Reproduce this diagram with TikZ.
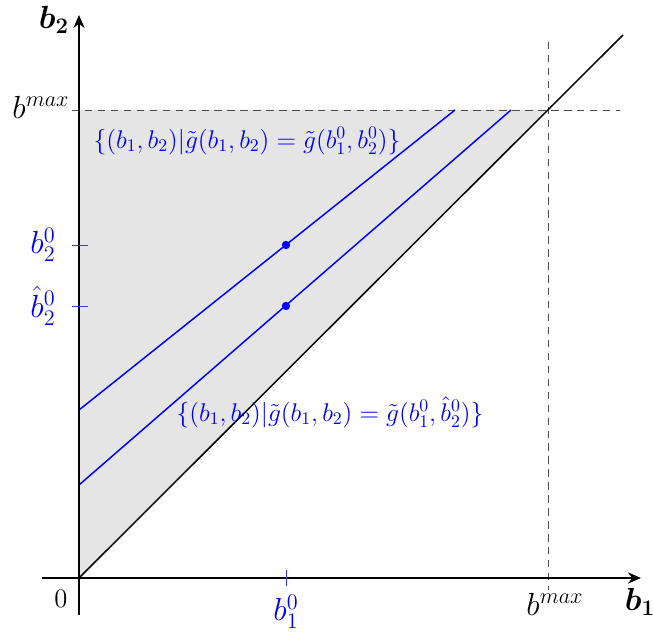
\documentclass[tikz,border=0pt]{standalone}
\usepackage{amsmath,bm}
\usetikzlibrary{arrows.meta}
\begin{document}
\begin{tikzpicture}[x=0.019cm,y=-0.019cm,
  axis/.style={line width=1.4pt,-{Stealth[length=7pt,width=6pt]}},
  guide/.style={dash pattern=on 4pt off 3pt,black!70,line width=0.5pt},
  level/.style={blue,line width=0.8pt},
  tickb/.style={blue!80,line width=0.45pt},
  lbl/.style={inner sep=1pt},
  setlbl/.style={inner sep=1pt,blue,font=\Large},
  dot/.style={circle,fill=blue,inner sep=0pt,minimum size=4.5pt}]
\useasboundingbox (0,0) rectangle (653,635);
% coordinates
\coordinate (O) at (79,578);
\coordinate (TL) at (79,110);
\coordinate (TD) at (547,110);
\coordinate (DE) at (623,35);
\fill[gray!20] (O) -- (TD) -- (TL) -- cycle;
\coordinate (HL) at (72,110);
\coordinate (HR) at (620,110);
\coordinate (VT) at (548,42);
\coordinate (VB) at (548,590);
\draw[guide] (HL) -- (HR);
\draw[guide] (VT) -- (VB);
\draw[line width=0.8pt] (O) -- (DE);
% level lines
\coordinate (A1) at (79,410); \coordinate (A2) at (455,110);
\coordinate (B1) at (79,485); \coordinate (B2) at (511,110);
\draw[level] (A1) -- (A2);
\draw[level] (B1) -- (B2);
\node[dot] (P) at (286,245) {};
\node[dot] (Q) at (286,306) {};
% axes
\coordinate (XL) at (42,578); \coordinate (XR) at (641,578);
\coordinate (YB) at (79,615); \coordinate (YT) at (79,15);
\draw[axis] (XL) -- (XR);
\draw[axis] (YB) -- (YT);
% ticks
\coordinate (t1a) at (72,245); \coordinate (t1b) at (88,245);
\coordinate (t2a) at (72,306); \coordinate (t2b) at (88,306);
\coordinate (t3a) at (286,570); \coordinate (t3b) at (286,586);
\draw[tickb] (t1a) -- (t1b);
\draw[tickb] (t2a) -- (t2b);
\draw[tickb] (t3a) -- (t3b);
% labels
\node[lbl] (lb2) at (54,20) {\LARGE $\bm{b_2}$};
\node[lbl] (lb1) at (640,602) {\LARGE $\bm{b_1}$};
\node[lbl] (lz) at (61,599) {\Large $0$};
\node[lbl] (lbm1) at (41,107) {\LARGE $b^{max}$};
\node[lbl] (lbm2) at (555,604) {\LARGE $b^{max}$};
\node[lbl,blue] (lb20) at (43,245) {\LARGE $b_2^0$};
\node[lbl,blue] (lhb20) at (43,306) {\LARGE $\hat b_2^0$};
\node[lbl,blue] (lb10) at (286,612) {\LARGE $b_1^0$};
\node[setlbl] (s1) at (247,141) {\scalebox{0.96}{$\{(b_1,b_2)|\tilde g(b_1,b_2)=\tilde g(b_1^0,b_2^0)\}$}};
\node[setlbl] (s2) at (330,412) {\scalebox{0.96}{$\{(b_1,b_2)|\tilde g(b_1,b_2)=\tilde g(b_1^0,\hat b_2^0)\}$}};
\end{tikzpicture}
\end{document}
